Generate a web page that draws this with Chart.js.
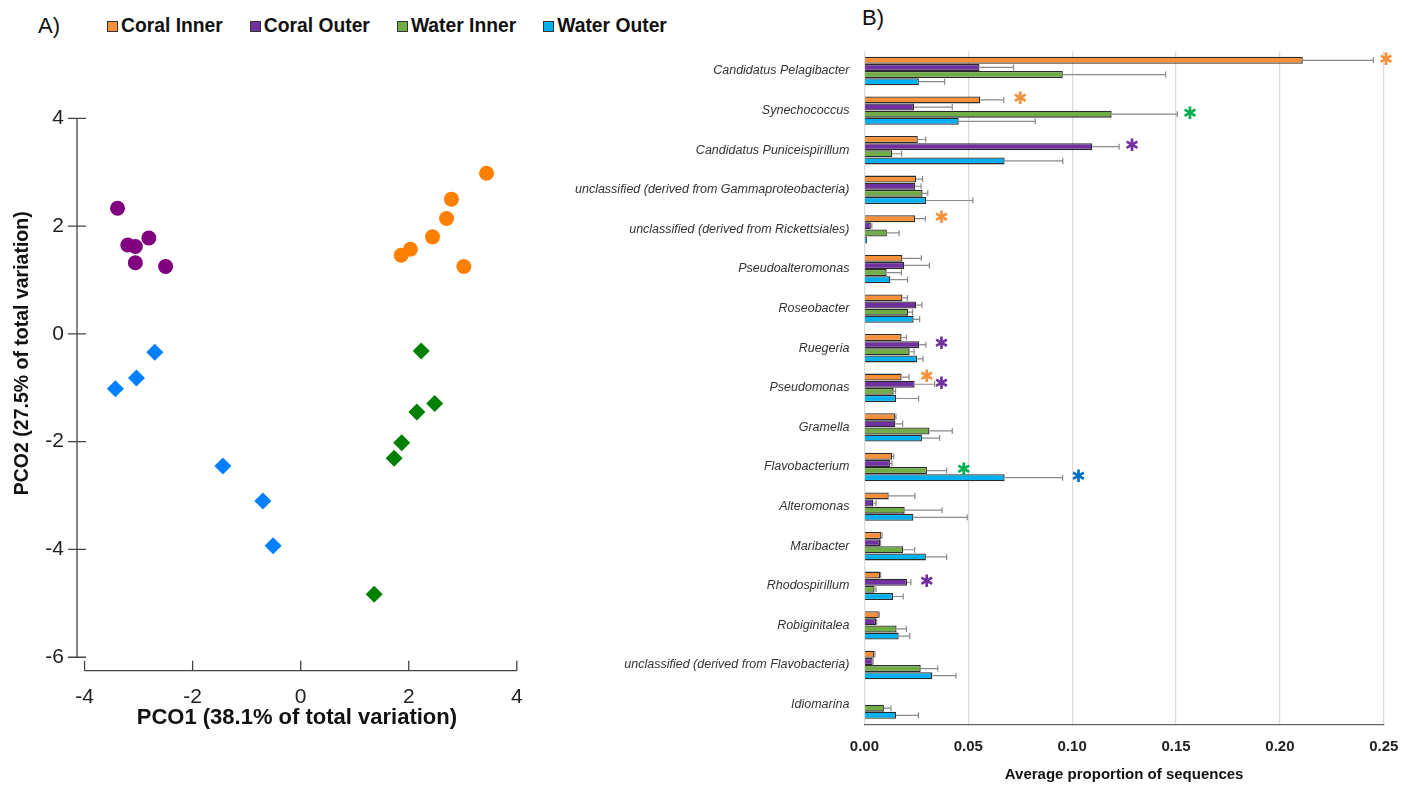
<!DOCTYPE html>
<html>
<head>
<meta charset="utf-8">
<script src="https://cdn.jsdelivr.net/npm/chart.js@4.4.0/dist/chart.umd.min.js"></script>
<style>
  body { margin: 0; background: #fff; width: 1416px; height: 790px; overflow: hidden; position: relative;
         font-family: "Liberation Sans", Arial, sans-serif; }
  #chart-pco { position: absolute; left: 0; top: 0; }
  #chart-bar { position: absolute; left: 520px; top: 0; }
  .panel { position: absolute; font-size: 22px; color: #111; }
  #legend { position: absolute; left: 107px; top: 15px; display: flex; gap: 27px; font-weight: bold; font-size: 19.3px; color: #111; }
  #legend .item { display: flex; align-items: center; }
  #legend .sw { width: 9px; height: 9px; border: 1px solid #333; margin-right: 3px; }
</style>
</head>
<body>
<div class="panel" style="left:38px;top:13px">A)</div>
<div class="panel" style="left:862px;top:5px">B)</div>
<div id="legend"></div>
<canvas id="chart-pco" width="560" height="790"></canvas>
<canvas id="chart-bar" width="896" height="790"></canvas>
<script>
/* Panel A: PCO ordination, Panel B: mean proportions per genus */

const groups = ["Coral Inner", "Coral Outer", "Water Inner", "Water Outer"];
const legendColors = ["#F7903A", "#7030A0", "#70AD47", "#00B0F0"];
const pointColors = ["#FF8000", "#800080", "#008000", "#0080FF"];
const sigColors = ["#F7903A", "#7030A0", "#00B050", "#0070C0"];

// PCO scores
const coralInnerPCO1 = [3.44, 2.79, 2.70, 2.44, 2.03, 1.86, 3.02];
const coralInnerPCO2 = [2.98, 2.50, 2.14, 1.80, 1.57, 1.46, 1.25];
const coralOuterPCO1 = [-3.39, -3.20, -3.06, -2.81, -3.06, -2.50];
const coralOuterPCO2 = [2.33, 1.65, 1.62, 1.78, 1.32, 1.25];
const waterInnerPCO1 = [2.23, 2.48, 2.15, 1.87, 1.73, 1.36];
const waterInnerPCO2 = [-0.32, -1.29, -1.45, -2.02, -2.31, -4.83];
const waterOuterPCO1 = [-2.70, -3.04, -3.43, -1.44, -0.70, -0.51];
const waterOuterPCO2 = [-0.34, -0.82, -1.02, -2.45, -3.10, -3.93];

const pco1Title = "PCO1 (38.1% of total variation)";
const pco2Title = "PCO2 (27.5% of total variation)";

// genus averages (+ one-sided error)
const taxa = [
  "Candidatus Pelagibacter", "Synechococcus", "Candidatus Puniceispirillum",
  "unclassified (derived from Gammaproteobacteria)", "unclassified (derived from Rickettsiales)",
  "Pseudoalteromonas", "Roseobacter", "Ruegeria", "Pseudomonas", "Gramella", "Flavobacterium",
  "Alteromonas", "Maribacter", "Rhodospirillum", "Robiginitalea",
  "unclassified (derived from Flavobacteria)", "Idiomarina"
];
const coralInnerMean = [0.211, 0.0558, 0.0257, 0.0249, 0.0244, 0.0183, 0.0183, 0.0179, 0.0179, 0.0147, 0.0133, 0.0117, 0.0082, 0.0075, 0.0069, 0.0048, 0];
const coralInnerErr  = [0.034, 0.0113, 0.0038, 0.0031, 0.0049, 0.0091, 0.0024, 0.0023, 0.0036, 0.0005, 0.0008, 0.0126, 0.0003, 0.0003, 0.0003, 0.0003, 0];
const coralOuterMean = [0.0554, 0.0239, 0.1097, 0.0244, 0.0031, 0.0192, 0.025, 0.0264, 0.0242, 0.0149, 0.0123, 0.0043, 0.0075, 0.0205, 0.0056, 0.004, 0];
const coralOuterErr  = [0.0164, 0.0184, 0.0129, 0.0029, 0.0005, 0.0121, 0.0027, 0.0032, 0.0096, 0.0035, 0.001, 0.0013, 0.0003, 0.0019, 0.0003, 0.0002, 0];
const waterInnerMean = [0.0955, 0.119, 0.0134, 0.028, 0.0108, 0.0107, 0.021, 0.0218, 0.0141, 0.0313, 0.0301, 0.0194, 0.0186, 0.0049, 0.0155, 0.0271, 0.0094];
const waterInnerErr  = [0.0495, 0.0316, 0.0045, 0.0025, 0.0059, 0.0071, 0.0022, 0.0021, 0.0009, 0.011, 0.0095, 0.018, 0.0056, 0.0007, 0.0047, 0.0082, 0.0034];
const waterOuterMean = [0.0262, 0.0454, 0.0675, 0.0297, 0.0012, 0.0125, 0.0237, 0.0253, 0.0152, 0.0277, 0.0675, 0.0236, 0.0296, 0.0138, 0.0165, 0.0327, 0.0152];
const waterOuterErr  = [0.0124, 0.0368, 0.028, 0.0225, 0, 0.0083, 0.0029, 0.0029, 0.0109, 0.0085, 0.0279, 0.0259, 0.01, 0.0049, 0.0053, 0.0114, 0.0108];

// significance markers: taxon index, group index, x position
const sigTaxon = [0, 1, 1, 2, 4, 7, 8, 8, 10, 10, 13];
const sigGroup = [0, 0, 2, 1, 0, 1, 0, 1, 2, 3, 1];
const sigX = [0.251, 0.075, 0.1566, 0.1288, 0.037, 0.037, 0.030, 0.037, 0.0478, 0.103, 0.030];

const barTicks = [0, 0.05, 0.10, 0.15, 0.20, 0.25];

function buildLegend() {
  const el = document.getElementById("legend");
  el.innerHTML = groups
    .map((g, i) => `<div class="item"><span class="sw" style="background:${legendColors[i]}"></span>${g}</div>`)
    .join("");
}

const zip = (xs, ys) => xs.map((x, i) => ({ x, y: ys[i] }));

// axes for panel A are detached, drawn by hand from the scales
const pcoAxes = {
  id: "pcoAxes",
  afterDraw(chart) {
    const { ctx, scales: { x, y } } = chart;
    const ax = x.left, ay = chart.chartArea.bottom;
    ctx.save();
    ctx.strokeStyle = "#444";
    ctx.lineWidth = 1.3;
    ctx.beginPath();
    ctx.moveTo(ax, y.getPixelForValue(4));
    ctx.lineTo(ax, y.getPixelForValue(-6));
    for (const t of y.ticks) {
      const py = y.getPixelForValue(t.value);
      ctx.moveTo(ax - 9, py);
      ctx.lineTo(ax + 9, py);
    }
    ctx.moveTo(x.getPixelForValue(-4), ay);
    ctx.lineTo(x.getPixelForValue(4), ay);
    for (const t of x.ticks) {
      const px = x.getPixelForValue(t.value);
      ctx.moveTo(px, ay);
      ctx.lineTo(px, ay - 10);
    }
    ctx.stroke();

    // y title sits a bit above the axis middle in the original
    ctx.translate(23, y.getPixelForValue(-0.36));
    ctx.rotate(-Math.PI / 2);
    ctx.font = "bold 19.5px 'Liberation Sans', Arial, sans-serif";
    ctx.fillStyle = "#111";
    ctx.textAlign = "center";
    ctx.textBaseline = "middle";
    ctx.fillText(pco2Title, 0, 0);
    ctx.restore();
  },
};

function renderPCO() {
  const sets = [
    [coralInnerPCO1, coralInnerPCO2, "circle", 7.5],
    [coralOuterPCO1, coralOuterPCO2, "circle", 7.5],
    [waterInnerPCO1, waterInnerPCO2, "rectRot", 8.5],
    [waterOuterPCO1, waterOuterPCO2, "rectRot", 8.5],
  ];
  new Chart(document.getElementById("chart-pco"), {
    type: "scatter",
    data: {
      datasets: sets.map((s, i) => ({
        label: groups[i],
        data: zip(s[0], s[1]),
        pointStyle: s[2],
        pointRadius: s[3],
        backgroundColor: pointColors[i],
        borderWidth: 0,
      })),
    },
    options: {
      responsive: false,
      animation: false,
      layout: { padding: { left: 0, top: 118.3, right: 43.2, bottom: 57.3 } },
      plugins: { legend: { display: false }, tooltip: { enabled: false } },
      scales: {
        x: {
          min: -4.14, max: 4,
          grid: { display: false }, border: { display: false },
          ticks: { stepSize: 2, includeBounds: false, padding: 6, color: "#222", font: { size: 21 } },
          title: { display: true, text: pco1Title, color: "#111",
                   font: { size: 22, weight: "bold" }, padding: { top: 2, bottom: 1.5 } },
          afterFit: (s) => { s.height = 62; },
        },
        y: {
          min: -6.25, max: 4,
          grid: { display: false, drawTicks: false }, border: { display: false },
          ticks: { stepSize: 2, includeBounds: false, padding: 13, color: "#222", font: { size: 21 } },
          afterFit: (s) => { s.width = 77; },
        },
      },
    },
    plugins: [pcoAxes],
  });
}

const errorBars = {
  id: "errorBars",
  afterDatasetsDraw(chart) {
    const { ctx, scales: { x } } = chart;
    const errs = [coralInnerErr, coralOuterErr, waterInnerErr, waterOuterErr];
    ctx.save();
    ctx.strokeStyle = "#8a8a8a";
    ctx.lineWidth = 1.2;
    chart.data.datasets.forEach((ds, di) => {
      const meta = chart.getDatasetMeta(di);
      meta.data.forEach((bar, i) => {
        const e = errs[di][i];
        if (!e) return;
        const x1 = x.getPixelForValue(ds.data[i] + e);
        ctx.beginPath();
        ctx.moveTo(bar.x, bar.y);
        ctx.lineTo(x1, bar.y);
        ctx.moveTo(x1, bar.y - 3);
        ctx.lineTo(x1, bar.y + 3);
        ctx.stroke();
      });
    });
    // asterisks for significant groups
    ctx.font = "bold 17px 'DejaVu Sans'";
    ctx.textAlign = "center";
    ctx.textBaseline = "middle";
    sigTaxon.forEach((t, k) => {
      const bar = chart.getDatasetMeta(sigGroup[k]).data[t];
      ctx.fillStyle = sigColors[sigGroup[k]];
      ctx.fillText("\u2731", x.getPixelForValue(sigX[k]), bar.y);
    });
    ctx.restore();
  },
};

function renderBars() {
  const means = [coralInnerMean, coralOuterMean, waterInnerMean, waterOuterMean];
  new Chart(document.getElementById("chart-bar"), {
    type: "bar",
    data: {
      labels: taxa,
      datasets: means.map((m, i) => ({
        label: groups[i],
        data: m,
        backgroundColor: legendColors[i],
        borderColor: "#2b2b2b",
        borderWidth: 1.3,
        categoryPercentage: 0.72,
        barPercentage: 0.98,
      })),
    },
    options: {
      indexAxis: "y",
      responsive: false,
      animation: false,
      layout: { padding: { left: 0, top: 51.2, right: 32.2, bottom: 0 } },
      plugins: { legend: { display: false }, tooltip: { enabled: false } },
      scales: {
        x: {
          min: 0, max: 0.25,
          afterBuildTicks: (s) => { s.ticks = barTicks.map((v) => ({ value: v })); },
          grid: { color: "#dcdcdc", lineWidth: 1.3, tickLength: 0 },
          border: { display: true, color: "#666", width: 1.3 },
          ticks: { padding: 13, color: "#222", font: { size: 15, weight: "bold" },
                   callback: (v) => Number(v).toFixed(2) },
          title: { display: true, text: "Average proportion of sequences", color: "#111",
                   font: { size: 15, weight: "bold" }, padding: { top: 4, bottom: 6 } },
          afterFit: (s) => { s.height = 65.6; },
        },
        y: {
          grid: { display: false }, border: { display: false },
          ticks: { padding: 7, color: "#333",
                   font: { size: 12.5, style: "italic", family: "'Liberation Sans Narrow', 'Arial Narrow', 'Liberation Sans', sans-serif" } },
          afterFit: (s) => { s.width = 344.4; },
        },
      },
    },
    plugins: [errorBars],
  });
}

buildLegend();
renderPCO();
renderBars();
</script>
</body>
</html>
